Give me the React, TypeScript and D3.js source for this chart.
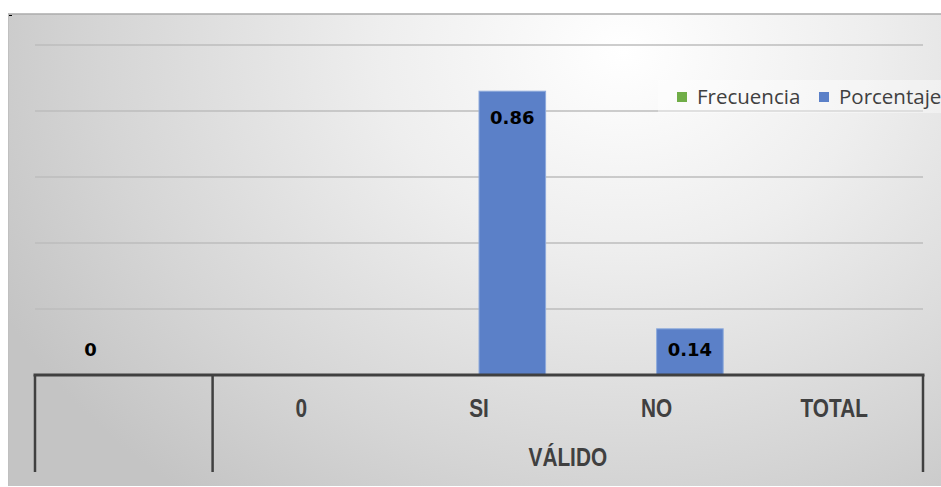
import React from "react";
import * as d3 from "d3";

const categories = ["", "0", "SI", "NO", "TOTAL"];
const groups = [
  { label: "", from: 0, to: 0 },
  { label: "VÁLIDO", from: 1, to: 4 },
];
const seriesNames = ["Frecuencia", "Porcentaje"];
const seriesColors = ["#70ad47", "#5b80c8"];
const frecuencia: (number | null)[] = [0, null, null, null, null];
const porcentaje: (number | null)[] = [null, null, 0.86, 0.14, null];
const yTicks = [0.2, 0.4, 0.6, 0.8, 1.0];

const W = 941;
const H = 487;
const plotLeft = 35;
const plotRight = 923;
const baseY = 375;
const topY = 45;

export default function App() {
  const x = d3.scaleBand<string>().domain(categories.map((c, i) => String(i))).range([plotLeft, plotRight]).paddingInner(0).paddingOuter(0);
  const inner = d3.scaleBand<string>().domain(seriesNames).range([0, x.bandwidth()]).paddingInner(0).paddingOuter(1 / 3);
  const y = d3.scaleLinear().domain([0, 1]).range([baseY, topY]);
  const series = [frecuencia, porcentaje];
  const labelFont = "'Liberation Sans', Arial, sans-serif";

  const narrowText = (key: string, cx: number, cy: number, s: string) => (
    <text key={key} transform={`translate(${cx},${cy}) scale(0.8,1)`} x={0} y={0} textAnchor="middle" fontFamily={labelFont} fontWeight="bold" fontSize={26} fill="#404040">
      {s}
    </text>
  );

  return (
    <svg width={W} height={H} style={{ position: "absolute", left: 0, top: 0 }}>
      <defs>
        <radialGradient id="bg" cx="0.66" cy="0.08" r="0.75" gradientTransform="translate(0.66 0.08) scale(1 1.6) translate(-0.66 -0.08)">
          <stop offset="0" stopColor="#ffffff" />
          <stop offset="0.35" stopColor="#eeeeee" />
          <stop offset="0.75" stopColor="#d5d5d5" />
          <stop offset="1" stopColor="#c4c4c4" />
        </radialGradient>
      </defs>
      <rect x={0} y={0} width={W} height={H} fill="#ffffff" />
      <rect x={8} y={14} width={W - 8} height={472} fill="url(#bg)" />
      <line x1={8} x2={W} y1={14} y2={14} stroke="#ababab" strokeWidth={1.5} />
      <line x1={8.5} x2={8.5} y1={14} y2={486} stroke="#c0c0c0" strokeWidth={1} />
      <rect x={9} y={15} width={3} height={1} fill="#000" />

      {yTicks.map((t) => (
        <line key={t} x1={plotLeft} x2={plotRight} y1={y(t)} y2={y(t)} stroke="#bcbcbc" strokeWidth={1.3} />
      ))}

      {/* legend */}
      <rect x={658} y={80} width={W - 658} height={33} fill="#ffffff" opacity={0.4} />
      {seriesNames.map((s, i) => {
        const lx = i === 0 ? 677 : 819;
        return (
          <g key={s}>
            <rect x={lx} y={92} width={10} height={10} fill={seriesColors[i]} />
            <text x={lx + 20} y={104} fontFamily="'Open Sans', sans-serif" fontSize={20.5} fill="#404040">{s}</text>
          </g>
        );
      })}

      {/* bars */}
      {series.map((vals, si) =>
        vals.map((v, ci) => {
          if (v === null) return null;
          const bx = (x(String(ci)) ?? 0) + (inner(seriesNames[si]) ?? 0);
          const bw = inner.bandwidth();
          const yt = y(v);
          const ly = Math.min(yt + 26, baseY - 25);
          return (
            <g key={`${si}-${ci}`}>
              {v > 0 && (
                <rect x={bx} y={yt} width={bw} height={baseY - yt} fill={seriesColors[si]} stroke="#8eaadc" strokeWidth={1} />
              )}
              <text x={bx + bw / 2} y={ly} dy="0.36em" textAnchor="middle" fontFamily="'DejaVu Sans', sans-serif" fontWeight="bold" fontSize={18} fill="#000">
                {String(v)}
              </text>
            </g>
          );
        })
      )}

      {/* category axis */}
      <line x1={plotLeft - 1.5} x2={plotRight + 1.5} y1={baseY} y2={baseY} stroke="#404040" strokeWidth={3} />
      {[plotLeft, x("1") ?? 0, plotRight].map((vx, i) => (
        <line key={i} x1={vx} x2={vx} y1={baseY} y2={472} stroke="#404040" strokeWidth={2.5} />
      ))}
      {categories.map((c, i) => narrowText(`c${i}`, (x(String(i)) ?? 0) + x.bandwidth() / 2, 417, c))}
      {groups.map((g) => {
        const gx0 = x(String(g.from)) ?? 0;
        const gx1 = (x(String(g.to)) ?? 0) + x.bandwidth();
        return narrowText(`g${g.from}`, (gx0 + gx1) / 2, 466, g.label);
      })}
    </svg>
  );
}
